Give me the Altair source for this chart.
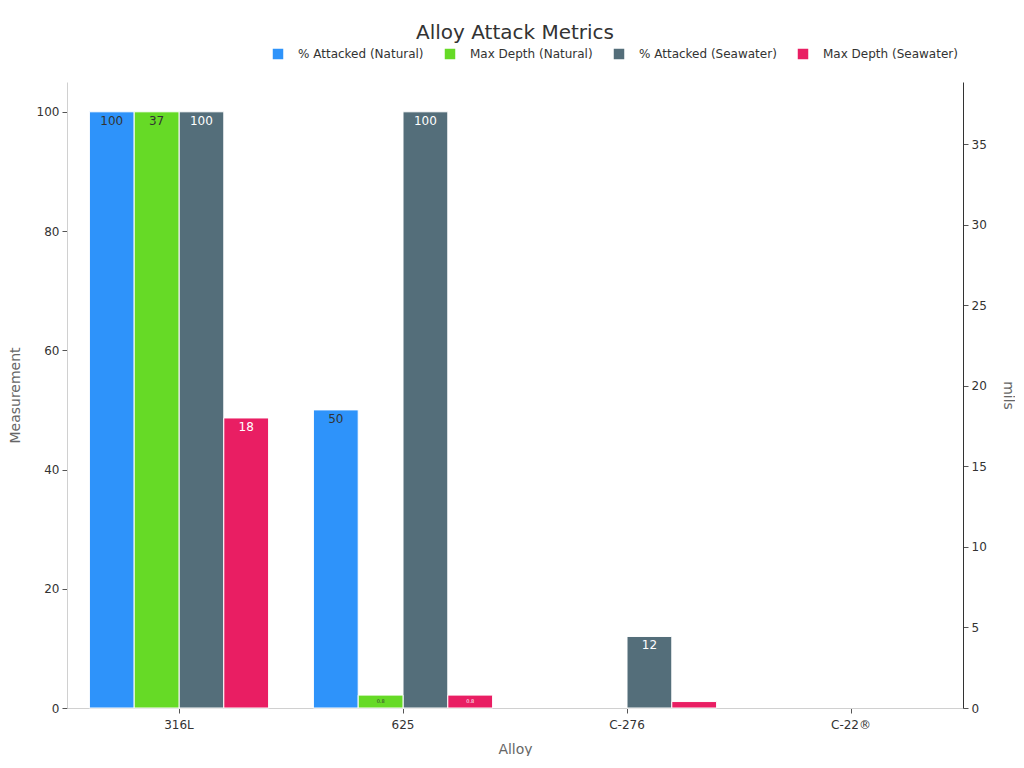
import altair as alt
import pandas as pd

alloys = ["316L", "625", "C-276", "C-22®"]
series_names = ["% Attacked (Natural)", "Max Depth (Natural)", "% Attacked (Seawater)", "Max Depth (Seawater)"]
pct_attacked_natural = [100, 50, 0, 0]
max_depth_natural = [37, 0.8, 0, 0]
pct_attacked_seawater = [100, 100, 12, 0]
max_depth_seawater = [18, 0.8, 0.4, 0]
colors = ["#2E93FA", "#66DA26", "#546E7A", "#E91E63"]

rows = []
for s, vals in zip(series_names, [pct_attacked_natural, max_depth_natural, pct_attacked_seawater, max_depth_seawater]):
    for a, v in zip(alloys, vals):
        rows.append({"alloy": a, "series": s, "value": v})
df = pd.DataFrame(rows)
pct_df = df[df.series.str.startswith("%")]
depth_df = df[df.series.str.startswith("Max")]

FONT = "DejaVu Sans"

x = alt.X("alloy:N", sort=alloys,
          scale=alt.Scale(domain=alloys, paddingInner=0.2, paddingOuter=0.1),
          axis=alt.Axis(title="Alloy", labelAngle=0, domainColor="#d0d0d0", tickColor="#555",
                        tickSize=5, labelColor="#333", labelFontSize=12, labelPadding=6,
                        titleColor="#666", titleFontSize=14, titleFontWeight="normal", titlePadding=12))
xoff = alt.XOffset("series:N", sort=series_names,
                   scale=alt.Scale(domain=series_names, paddingInner=0, paddingOuter=0))
color = alt.Color("series:N", sort=series_names,
                  scale=alt.Scale(domain=series_names, range=colors),
                  legend=alt.Legend(title=None, orient="none", legendX=205, legendY=-34,
                                    direction="horizontal", symbolType="square", symbolSize=110,
                                    symbolStrokeWidth=0, labelFontSize=12, labelColor="#333",
                                    labelOffset=14, columnPadding=20, labelFont=FONT))

text_color = alt.condition(
    alt.FieldOneOfPredicate(field="series", oneOf=["% Attacked (Seawater)", "Max Depth (Seawater)"]),
    alt.value("white"), alt.value("#333"))
text_size = alt.condition("datum.value < 1", alt.value(5), alt.value(12))

def layer(data, ydom, yvals, title, orient, domain_color):
    y = alt.Y("value:Q", scale=alt.Scale(domain=ydom, nice=False, zero=True),
              axis=alt.Axis(title=title, orient=orient, grid=False, values=yvals,
                            domainColor=domain_color, tickColor="#555", tickSize=5,
                            labelColor="#333", labelFontSize=12, labelPadding=3,
                            titleColor="#666", titleFontSize=14, titleFontWeight="normal",
                            titlePadding=14))
    base = alt.Chart(data).transform_filter("datum.value > 0")
    bars = base.mark_bar(stroke="white", strokeWidth=1).encode(x=x, xOffset=xoff, y=y, color=color)
    labels = base.transform_filter("datum.value > 0.5").mark_text(
        baseline="top", dy=4, font=FONT).encode(
        x=x, xOffset=xoff, y=alt.Y("value:Q"), text=alt.Text("value:Q"),
        color=text_color, size=text_size)
    return alt.layer(bars, labels)

left = layer(pct_df, [0, 105], [0, 20, 40, 60, 80, 100], "Measurement", "left", "#d0d0d0")
right = layer(depth_df, [0, 38.85], [0, 5, 10, 15, 20, 25, 30, 35], "mils", "right", "#333")

chart = alt.layer(left, right).resolve_scale(y="independent").properties(
    width=896, height=626,
    title=alt.TitleParams("Alloy Attack Metrics", fontSize=20, fontWeight="normal", color="#333",
                          anchor="middle", offset=5, font=FONT),
    padding={"left": 0, "top": 15, "right": 0, "bottom": 0},
).configure(font=FONT).configure_view(stroke=None)

chart.save("out.html", embed_options={"renderer": "svg", "actions": False})
